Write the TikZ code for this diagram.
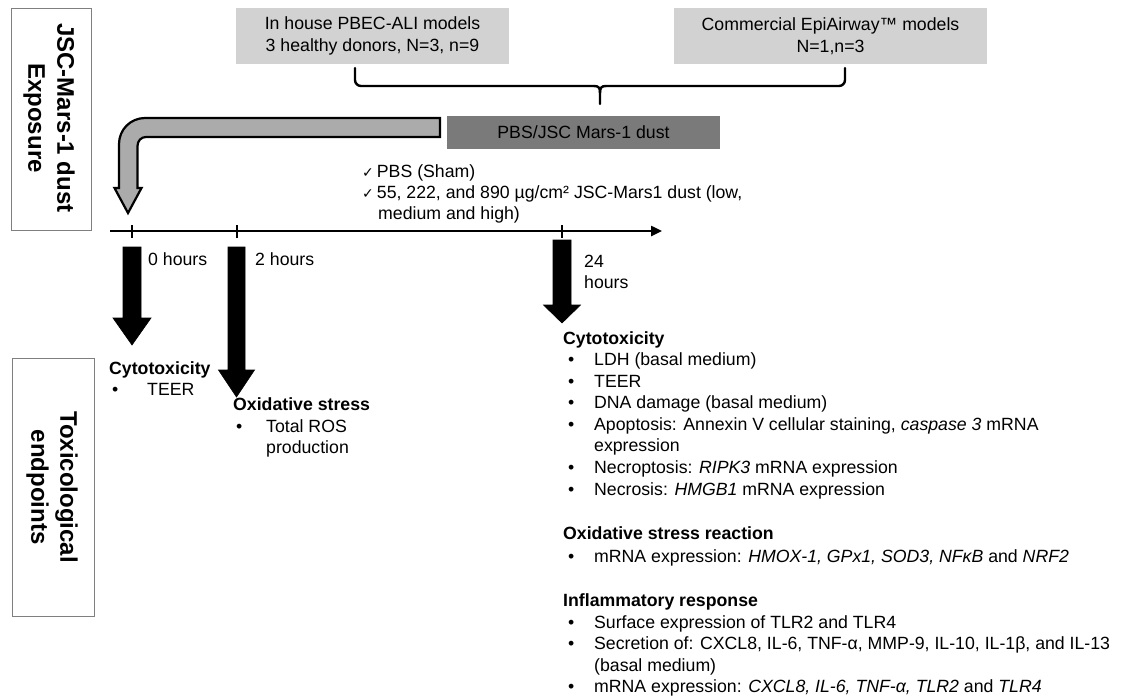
\documentclass[tikz,border=0pt]{standalone}
\usepackage{fontspec}
\setmainfont{Liberation Sans}
\newfontfamily\symfont{DejaVu Sans}
\usetikzlibrary{arrows.meta}
\newcommand\bul[1]{\makebox[#1][l]{•}}
\definecolor{lightbox}{HTML}{D2D2D2}
\definecolor{darkbox}{HTML}{7A7A7A}
\definecolor{arrowgrey}{HTML}{ABABAB}
\definecolor{sideframe}{HTML}{7F7F7F}
\newcommand\chk{{\symfont\fontsize{14}{16}\selectfont ✓}}
\begin{document}
\begin{tikzpicture}[x=1pt,y=-1pt,
  txt/.style={anchor=base west, inner sep=0pt, font=\fontsize{17.7}{21.7}\selectfont},
  hd/.style={anchor=base west, inner sep=0pt, font=\fontsize{17.7}{21.7}\selectfont\bfseries},
  sidebox/.style={draw=sideframe, line width=1pt, fill=white},
  sidetxt/.style={rotate=-90, align=center, inner sep=0pt, font=\fontsize{24}{29}\selectfont\bfseries},
  greybox/.style={fill=lightbox, draw=none, align=center, inner sep=0pt, font=\fontsize{17.7}{22}\selectfont},
  pbsbox/.style={fill=darkbox, draw=none, inner sep=0pt, font=\fontsize{17.7}{22}\selectfont},
  brace/.style={draw=black, line width=2.4pt, line cap=round, line join=round},
  timeline/.style={draw=black, line width=2.4pt},
  tick/.style={draw=black, line width=2pt},
  blockarrow/.style={fill=black, draw=black, line width=0.6pt, line join=miter},
  bentarrow/.style={fill=arrowgrey, draw=black, line width=2.2pt, line join=miter}
]
\useasboundingbox (0,0) rectangle (1130,696);

% side labels
\node[sidebox, minimum width=80pt, minimum height=222pt] (expbox) at (51,119) {};
\node[sidetxt] (exptxt) at (49,118) {JSC-Mars-1 dust\\Exposure};
\node[sidebox, minimum width=82pt, minimum height=258pt] (toxbox) at (53,487) {};
\node[sidetxt] (toxtxt) at (52,487) {Toxicological\\endpoints};

% top boxes
\node[greybox, minimum width=273pt, minimum height=56pt] (inhouse) at (372.5,36) {In house PBEC-ALI models\\3 healthy donors, N=3, n=9};
\node[greybox, minimum width=313pt, minimum height=56pt] (commercial) at (830.5,36) {Commercial EpiAirway™ models\\N=1,n=3};
\node[pbsbox, minimum width=273pt, minimum height=33pt] (pbs) at (583.5,132.5) {PBS/JSC Mars-1 dust};

% brace
\coordinate (bl) at (355,68);
\coordinate (br) at (845,68);
\coordinate (bc) at (600,104);
\draw[brace, rounded corners=6pt] (bl) |- (594,86);
\draw[brace, rounded corners=6pt] (br) |- (606,86);
\draw[brace] (594,86) .. controls (599,86) and (600,88) .. (600,93) -- (bc);
\draw[brace] (606,86) .. controls (601,86) and (600,88) .. (600,93);

% bent grey arrow
\coordinate (gaS) at (440,127.5);
\coordinate (gaE) at (128,213);
\draw[bentarrow] (440,118) -- (145,118)
  .. controls (130.6,118) and (119,129.6) .. (119,144)
  -- (119,188) -- (114.5,188) -- (gaE) -- (141.5,188) -- (137.5,188)
  -- (137.5,146) .. controls (137.5,141) and (141,137) .. (146,137)
  -- (440,137) -- cycle;

% timeline
\coordinate (tl0) at (110,231);
\coordinate (tl1) at (662,231);
\draw[timeline, -{Triangle[length=11pt,width=10pt]}] (tl0) -- (tl1);
\coordinate (t0) at (132,231);
\coordinate (t2) at (236.5,231);
\coordinate (t24) at (562,231);
\draw[tick] ([yshift=-6.5pt]t0) -- ([yshift=6.5pt]t0);
\draw[tick] ([yshift=-6.5pt]t2) -- ([yshift=6.5pt]t2);
\draw[tick] ([yshift=-6.5pt]t24) -- ([yshift=6.5pt]t24);

% black arrows
\filldraw[blockarrow] (123,247) -- (141,247) -- (141,318) -- (151,318) -- (132,345) -- (113,318) -- (123,318) -- cycle;
\filldraw[blockarrow] (228,247) -- (245,247) -- (245,370) -- (254.5,370) -- (236.5,397) -- (218.5,370) -- (228,370) -- cycle;
\filldraw[blockarrow] (553,240) -- (571,240) -- (571,305) -- (580.5,305) -- (562,323) -- (543.5,305) -- (553,305) -- cycle;

% time labels
\node[txt] (h0) at (148,265) {0 hours};
\node[txt] (h2) at (255,265) {2 hours};
\node[txt] (h24a) at (584,267) {24};
\node[txt] (h24b) at (584,288) {hours};

% exposure list
\node[txt] (ex1) at (362,177) {\chk\hspace{3pt}PBS (Sham)};
\node[txt] (ex2) at (362,198) {\chk\hspace{3pt}55, 222, and 890 µg/cm² JSC-Mars1 dust (low,};
\node[txt] (ex3) at (378,219) {medium and high)};

% 0 h endpoints
\node[hd] (l1) at (109,374) {Cytotoxicity};
\node[txt] (l2) at (112,395) {\bul{35pt}TEER};

% 2 h endpoints
\node[hd] (m1) at (233,410) {Oxidative stress};
\node[txt] (m2) at (236,432) {\bul{30pt}Total ROS};
\node[txt] (m3) at (266,453) {production};

% 24 h endpoints
\node[hd] (r0) at (563,344) {Cytotoxicity};
\node[txt] (r1) at (568,365) {\bul{26pt}LDH (basal medium)};
\node[txt] (r2) at (568,387) {\bul{26pt}TEER};
\node[txt] (r3) at (568,408) {\bul{26pt}DNA damage (basal medium)};
\node[txt] (r4) at (568,430) {\bul{26pt}Apoptosis: Annexin V cellular staining, \textit{caspase 3} mRNA};
\node[txt] (r5) at (594,451) {expression};
\node[txt] (r6) at (568,473) {\bul{26pt}Necroptosis: \textit{RIPK3} mRNA expression};
\node[txt] (r7) at (568,495) {\bul{26pt}Necrosis: \textit{HMGB1} mRNA expression};

\node[hd] (o0) at (563,539) {Oxidative stress reaction};
\node[txt] (o1) at (568,562) {\bul{26pt}mRNA expression: \textit{HMOX-1, GPx1, SOD3, NFκB} and \textit{NRF2}};

\node[hd] (i0) at (563,606) {Inflammatory response};
\node[txt] (i1) at (568,628) {\bul{26pt}Surface expression of TLR2 and TLR4};
\node[txt] (i2) at (568,649) {\bul{26pt}Secretion of: CXCL8, IL-6, TNF-α, MMP-9, IL-10, IL-1β, and IL-13};
\node[txt] (i3) at (594,671) {(basal medium)};
\node[txt] (i4) at (568,692) {\bul{26pt}mRNA expression: \textit{CXCL8, IL-6, TNF-α, TLR2} and \textit{TLR4}};
\end{tikzpicture}
\end{document}
